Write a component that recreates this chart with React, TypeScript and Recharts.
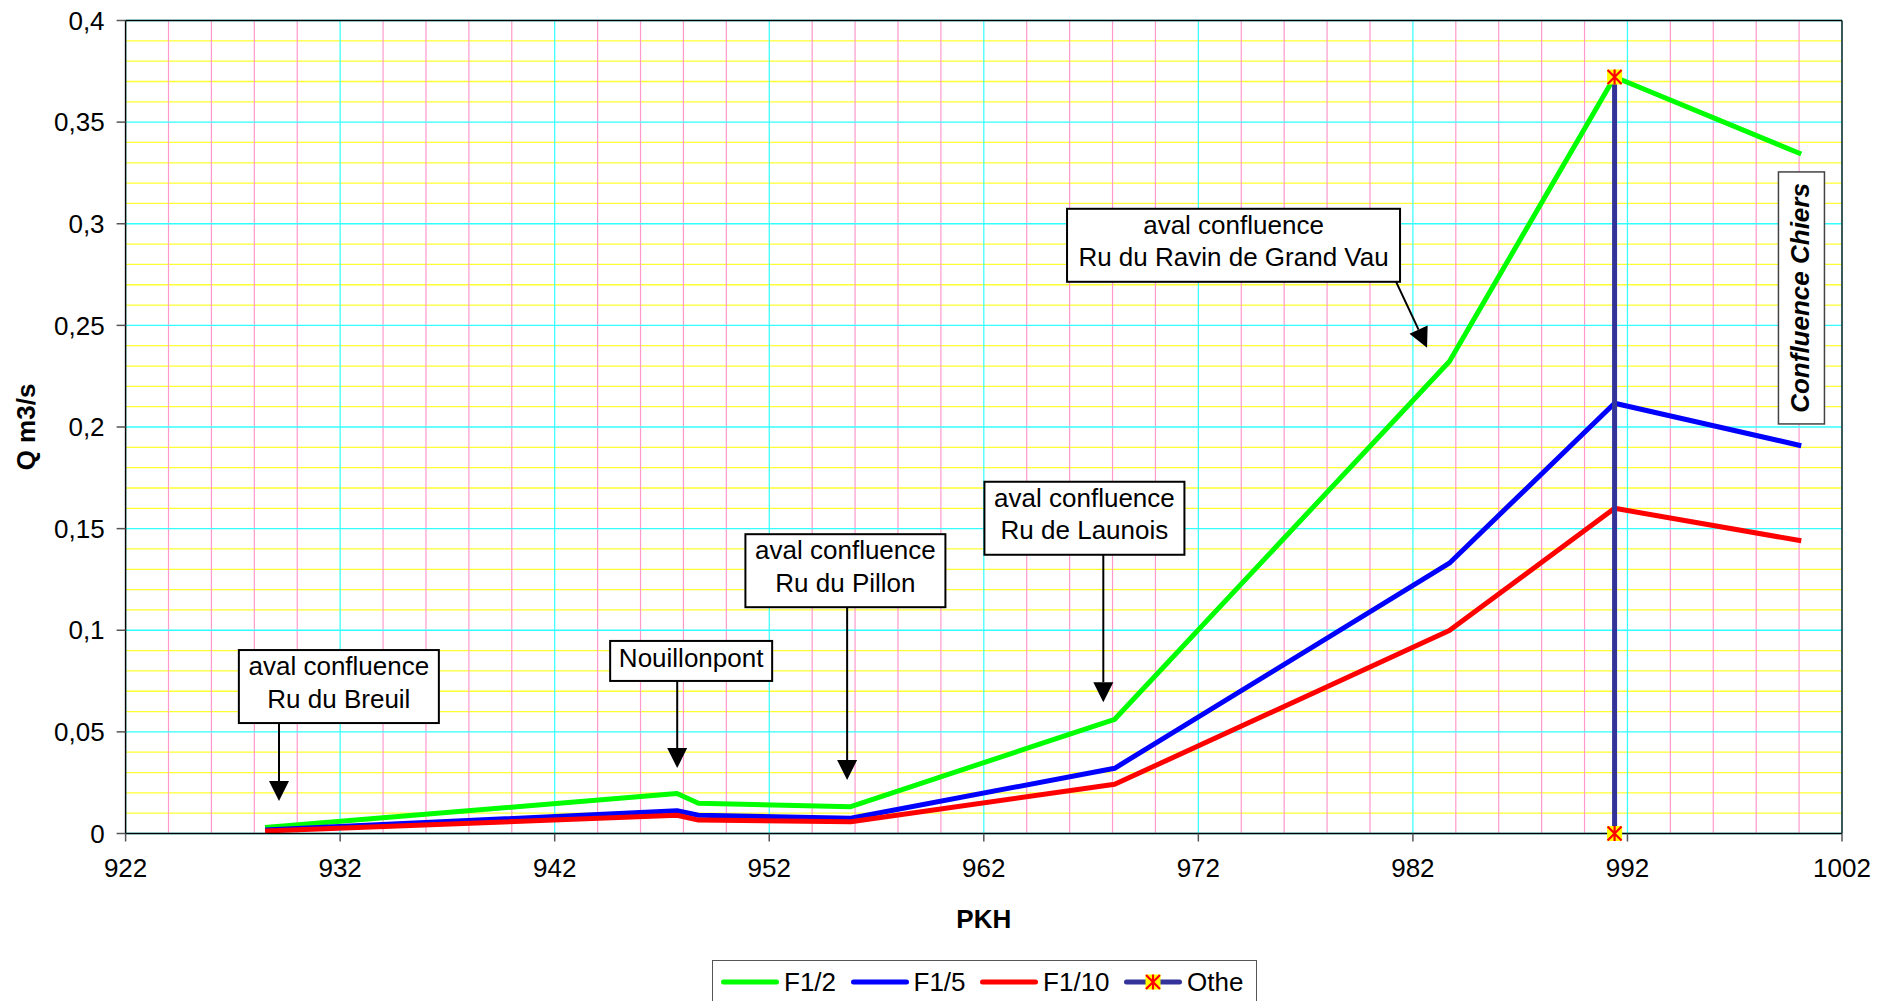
import React from 'react'
import {
  LineChart,
  Line,
  XAxis,
  YAxis,
  CartesianGrid,
  Legend,
  ReferenceLine,
  ReferenceDot,
  Label,
} from 'recharts'

const FONT = '"Liberation Sans", Arial, Helvetica, sans-serif'

// PKH of the calculation points
const pkh = [928.5, 947.7, 948.7, 955.8, 968.1, 983.7, 991.4, 1000.1]
// discharges Q (m3/s) per return period
const qF12 = [0.003, 0.0197, 0.0149, 0.0132, 0.0562, 0.2322, 0.3722, 0.3343]
const qF15 = [0.0017, 0.0112, 0.009, 0.0075, 0.0321, 0.133, 0.2117, 0.1908]
const qF110 = [0.0012, 0.009, 0.0066, 0.0058, 0.0242, 0.0999, 0.16, 0.144]
// vertical marker series "Othe"
const otherPkh = [991.4, 991.4]
const otherQ = [0, 0.3722]

const seriesNames = ['F1/2', 'F1/5', 'F1/10', 'Othe']
const xTicks = [922, 932, 942, 952, 962, 972, 982, 992, 1002]
const yTicks = [0, 0.05, 0.1, 0.15, 0.2, 0.25, 0.3, 0.35, 0.4]

// callouts: text, box centre and arrow (from -> to), in chart units
const callouts = [
  { lines: ['aval confluence', 'Ru du Breuil'], at: [931.94, 0.0723], from: [929.15, 0.0544], to: [929.15, 0.016] },
  { lines: ['Nouillonpont'], at: [948.36, 0.0849], from: [947.71, 0.0796], to: [947.71, 0.0322] },
  { lines: ['aval confluence', 'Ru du Pillon'], at: [955.55, 0.1293], from: [955.63, 0.1114], to: [955.63, 0.0263] },
  { lines: ['aval confluence', 'Ru de Launois'], at: [966.69, 0.1551], from: [967.57, 0.1372], to: [967.57, 0.0646] },
  { lines: ['aval confluence', 'Ru du Ravin de Grand Vau'], at: [973.64, 0.2894], from: [981.18, 0.2723], to: [982.66, 0.239] },
]
const boxWidths = [200, 162, 200, 200, 333]
const chiersAt = [1000.11, 0.2635]

const toPoints = (xs: number[], ys: number[]) => xs.map((x, i) => ({ pkh: x, q: ys[i] }))

// minor gridlines between the major ticks
const between = (ticks: number[], n: number) => {
  const out: number[] = []
  for (let i = 0; i < ticks.length - 1; i++) {
    const step = (ticks[i + 1] - ticks[i]) / (n + 1)
    for (let k = 1; k <= n; k++) out.push(+(ticks[i] + step * k).toFixed(4))
  }
  return out
}
const xMinor = between(xTicks, 4)
const yMinor = between(yTicks, 4)

const StarMarker = ({ cx, cy }: any) => (
  <g>
    <rect x={cx - 7.5} y={cy - 7.5} width={15} height={15} fill="#FFFF00" />
    <path
      d={`M${cx - 7},${cy - 7}L${cx + 7},${cy + 7}M${cx + 7},${cy - 7}L${cx - 7},${cy + 7}M${cx},${cy - 7.5}L${cx},${cy + 7.5}`}
      stroke="#FF0000"
      strokeWidth={2.2}
    />
  </g>
)

const arrowShape = (p: any) => {
  const { x1, y1, x2, y2 } = p
  const dx = x2 - x1
  const dy = y2 - y1
  const len = Math.hypot(dx, dy) || 1
  const ux = dx / len
  const uy = dy / len
  const bx = x2 - ux * 20
  const by = y2 - uy * 20
  const px = -uy * 10
  const py = ux * 10
  return (
    <g>
      <line x1={x1} y1={y1} x2={bx} y2={by} stroke="#000" strokeWidth={2} />
      <polygon points={`${x2},${y2} ${bx + px},${by + py} ${bx - px},${by - py}`} fill="#000" />
    </g>
  )
}

const CalloutBox = ({ cx, cy, lines, w }: any) => {
  const h = lines.length === 1 ? 40 : 73
  const top = cy - h / 2
  return (
    <g>
      <rect x={cx - w / 2} y={top} width={w} height={h} fill="#fff" stroke="#000" strokeWidth={2} />
      {lines.map((t: string, i: number) => (
        <text
          key={i}
          x={cx}
          y={top + (lines.length === 1 ? 26 : 25 + i * 32.5)}
          textAnchor="middle"
          fontSize={26}
          fontFamily={FONT}
          fill="#000"
        >
          {t}
        </text>
      ))}
    </g>
  )
}

const ChiersBox = ({ cx, cy }: any) => (
  <g>
    <rect x={cx - 23} y={cy - 126} width={46} height={252} fill="#fff" stroke="#444" strokeWidth={1.5} />
    <text
      x={cx - 2}
      y={cy}
      transform={`rotate(-90 ${cx - 2} ${cy})`}
      textAnchor="middle"
      dy="0.35em"
      fontSize={26}
      fontWeight="bold"
      fontStyle="italic"
      fontFamily={FONT}
      fill="#000"
    >
      Confluence Chiers
    </text>
  </g>
)

const renderLegend = (props: any) => {
  const payload = [...(props.payload || [])].sort(
    (a: any, b: any) => seriesNames.indexOf(a.value) - seriesNames.indexOf(b.value)
  )
  return (
    <div
      style={{
        border: '1px solid #555',
        background: '#fff',
        height: 44,
        width: 545,
        boxSizing: 'border-box',
        display: 'flex',
        alignItems: 'center',
        paddingLeft: 8,
        fontFamily: FONT,
        fontSize: 26,
        color: '#000',
      }}
    >
      {payload.map((entry: any, i: number) => (
        <div key={i} style={{ display: 'flex', alignItems: 'center', marginRight: 14.5 }}>
          <svg width={58} height={18}>
            <line x1={2.5} y1={9} x2={55.5} y2={9} stroke={entry.color} strokeWidth={5} strokeLinecap="round" />
            {entry.value === 'Othe' && <StarMarker cx={29} cy={9} />}
          </svg>
          <span style={{ marginLeft: 5, lineHeight: '30px' }}>{entry.value}</span>
        </div>
      ))}
    </div>
  )
}

const commaFormat = (v: number) => String(v).replace('.', ',')

export default function App() {
  const tickStyle = { fontSize: 26, fill: '#000', fontFamily: FONT }
  return (
    <div style={{ position: 'absolute', left: 0, top: 0, width: 1894, height: 1001, background: '#fff' }}>
      <LineChart width={1894} height={1001} margin={{ top: 20.5, right: 52, left: 0, bottom: 67.5 }}>
        <CartesianGrid vertical={false} horizontalValues={yMinor} stroke="#FFFF33" strokeWidth={1.3} />
        <CartesianGrid horizontal={false} verticalValues={xMinor} stroke="#FF99CC" strokeWidth={1.2} />
        <CartesianGrid vertical={false} horizontalValues={yTicks} stroke="#33FFFF" strokeWidth={1.3} />
        <CartesianGrid horizontal={false} verticalValues={xTicks} stroke="#33FFFF" strokeWidth={1.2} />

        <XAxis
          type="number"
          dataKey="pkh"
          domain={[922, 1002]}
          ticks={xTicks}
          interval={0}
          height={100}
          tick={tickStyle}
          tickSize={8}
          tickMargin={17.5}
          axisLine={{ stroke: '#000', strokeWidth: 1.5 }}
          tickLine={{ stroke: '#555', strokeWidth: 1.5 }}
        >
          <Label
            content={(p: any) => {
              const vb = p.viewBox || { x: 125.6, y: 833.5, width: 1716.4, height: 100 }
              return (
                <text
                  x={vb.x + vb.width / 2}
                  y={vb.y + 94.5}
                  textAnchor="middle"
                  fontSize={26}
                  fontWeight="bold"
                  fontFamily={FONT}
                  fill="#000"
                >
                  PKH
                </text>
              )
            }}
          />
        </XAxis>
        <YAxis
          type="number"
          domain={[0, 0.4]}
          ticks={yTicks}
          interval={0}
          width={125.6}
          tick={tickStyle}
          tickFormatter={commaFormat}
          tickSize={9}
          tickMargin={12}
          axisLine={{ stroke: '#000', strokeWidth: 1.5 }}
          tickLine={{ stroke: '#555', strokeWidth: 1.5 }}
        >
          <Label
            content={(p: any) => {
              const vb = p.viewBox || { x: 0, y: 20.5, width: 125.6, height: 813 }
              const cx = vb.x + 26
              const cy = vb.y + vb.height / 2
              return (
                <text
                  x={cx}
                  y={cy}
                  transform={`rotate(-90 ${cx} ${cy})`}
                  textAnchor="middle"
                  dy="0.35em"
                  fontSize={26}
                  fontWeight="bold"
                  fontFamily={FONT}
                  fill="#000"
                >
                  Q m3/s
                </text>
              )
            }}
          />
        </YAxis>

        <ReferenceLine y={0.4} stroke="#000" strokeWidth={1.5} />
        <ReferenceLine x={1002} stroke="#222" strokeWidth={1.5} />

        <Line
          data={toPoints(pkh, qF12)}
          dataKey="q"
          name="F1/2"
          stroke="#00FF00"
          strokeWidth={5}
          strokeLinejoin="round"
          dot={false}
          activeDot={false}
          isAnimationActive={false}
        />
        <Line
          data={toPoints(pkh, qF15)}
          dataKey="q"
          name="F1/5"
          stroke="#0000FF"
          strokeWidth={5}
          strokeLinejoin="round"
          dot={false}
          activeDot={false}
          isAnimationActive={false}
        />
        <Line
          data={toPoints(pkh, qF110)}
          dataKey="q"
          name="F1/10"
          stroke="#FF0000"
          strokeWidth={5}
          strokeLinejoin="round"
          dot={false}
          activeDot={false}
          isAnimationActive={false}
        />
        <Line
          data={toPoints(otherPkh, otherQ)}
          dataKey="q"
          name="Othe"
          stroke="#333399"
          strokeWidth={5}
          dot={(p: any) => <StarMarker key={`m-${p.index}`} cx={p.cx} cy={p.cy} />}
          activeDot={false}
          isAnimationActive={false}
        />

        {callouts.map((c, i) => (
          <ReferenceDot
            key={`box-${i}`}
            x={c.at[0]}
            y={c.at[1]}
            r={1}
            shape={(p: any) => <CalloutBox cx={p.cx} cy={p.cy} lines={c.lines} w={boxWidths[i]} />}
          />
        ))}
        <ReferenceDot x={chiersAt[0]} y={chiersAt[1]} r={1} shape={(p: any) => <ChiersBox cx={p.cx} cy={p.cy} />} />
        {callouts.map((c, i) => (
          <ReferenceLine
            key={`arrow-${i}`}
            segment={[
              { x: c.from[0], y: c.from[1] },
              { x: c.to[0], y: c.to[1] },
            ]}
            shape={arrowShape}
          />
        ))}

        <Legend
          verticalAlign="middle"
          layout="horizontal"
          align="center"
          wrapperStyle={{ left: 712, top: 960, width: 545, height: 44 }}
          content={renderLegend}
        />
      </LineChart>
    </div>
  )
}
